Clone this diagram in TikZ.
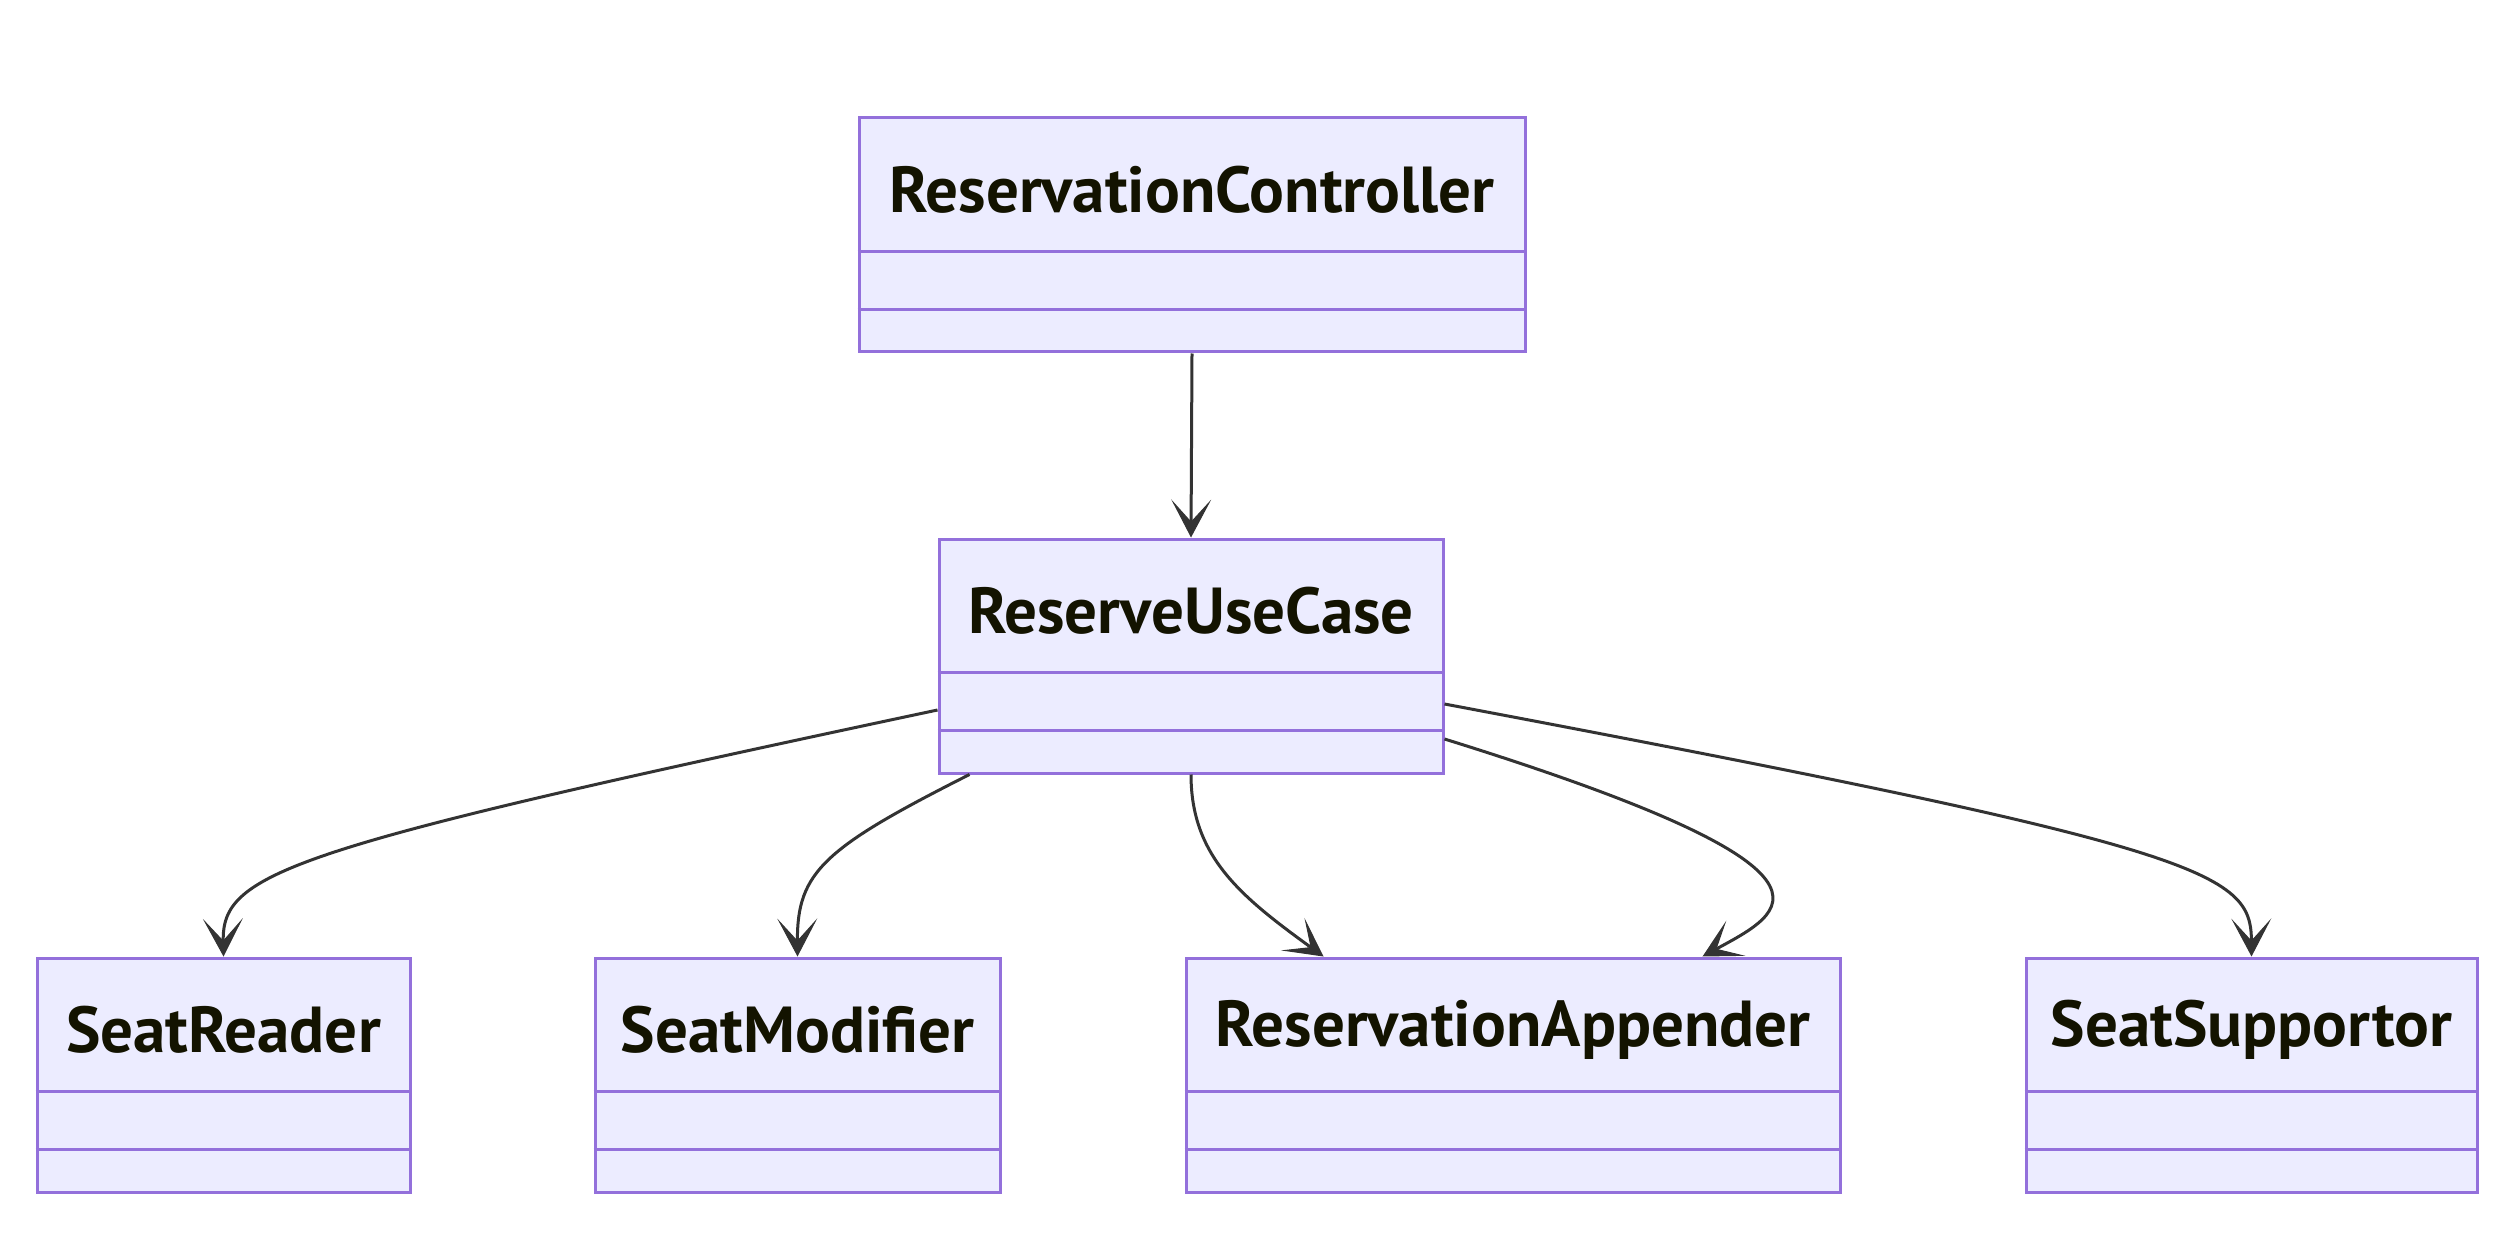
\documentclass[tikz,border=0pt]{standalone}
\usepackage{fontspec}
\setmainfont{PT Sans}
\usetikzlibrary{arrows.meta,calc}
\definecolor{clsfill}{HTML}{ECECFF}
\definecolor{clsline}{HTML}{9370DB}
\definecolor{edgecol}{HTML}{333333}
\definecolor{txtcol}{HTML}{131300}
\tikzset{
  cls/.style={draw=clsline, fill=clsfill, line width=3pt, minimum height=234pt, inner sep=0pt, rectangle},
  clsdiv/.style={draw=clsline, line width=3pt},
  clstitle/.style={text=txtcol, font=\fontsize{65}{78}\selectfont\bfseries, inner sep=0pt, anchor=center},
  dep/.style={draw=edgecol, line width=3pt, -{Stealth[length=38pt,width=40pt,inset=22pt,line width=1pt]}},
}
\newcommand\umlclass[5]{%
  \node[cls, minimum width=#4pt] (#1) at (#2,#3) {};
  \draw[clsdiv] ($(#1.north west)+(0,135)$) -- ($(#1.north east)+(0,135)$);
  \draw[clsdiv] ($(#1.north west)+(0,193)$) -- ($(#1.north east)+(0,193)$);
  \node[clstitle] (#1-t) at ($(#1.north)+(0,73)$) {#5};
}
\begin{document}
\begin{tikzpicture}[x=1pt,y=-1pt]
\useasboundingbox (0,0) rectangle (2508,1238);
\umlclass{rc}{1192}{235}{666}{ReservationController}
\umlclass{ruc}{1191}{656}{504}{ReserveUseCase}
\umlclass{sr}{223.5}{1075}{373}{SeatReader}
\umlclass{sm}{797.5}{1075}{405}{SeatModifier}
\umlclass{ra}{1513}{1075}{654}{ReservationAppender}
\umlclass{ss}{2251.5}{1075}{451}{SeatSupportor}
% connectors
\draw[dep] (rc.south) -- (ruc.north);
\draw[dep] ($(ruc.west)+(0,54)$) .. controls (288,848) and (222,872) .. (sr.north);
\draw[dep] ($(ruc.south west)+(32,0)$) .. controls (824,848) and (797,872) .. (sm.north);
\draw[dep] (ruc.south) .. controls (1191,856) and (1240,896) .. ($(ra.north west)+(139,0)$);
\draw[dep] ($(ruc.east)+(0,83)$) .. controls (1872,872) and (1784,912) .. ($(ra.north west)+(518,0)$);
\draw[dep] ($(ruc.east)+(0,48)$) .. controls (2208,848) and (2251,872) .. (ss.north);
\end{tikzpicture}
\end{document}
